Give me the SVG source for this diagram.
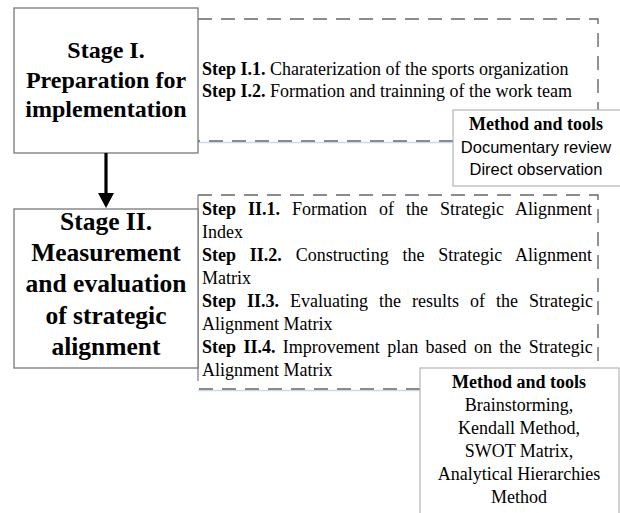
<svg xmlns="http://www.w3.org/2000/svg" width="620" height="513" viewBox="0 0 620 513">
<defs>
<style>
.stage{fill:#fff;stroke:#777;stroke-width:1.3}
.dash{fill:none;stroke:#666;stroke-width:1.4;stroke-dasharray:14 9}
.shadow{fill:none;stroke:#c9daf0;stroke-width:1.5}
.mbox{fill:#fff;stroke:#b5b5b5;stroke-width:1.2}
.st{font-family:"Liberation Serif","Times New Roman",serif;font-weight:bold;fill:#000;text-anchor:middle}
.step{font-family:"Liberation Serif","Times New Roman",serif;font-size:18px;fill:#000}
.b{font-weight:bold}
.mh{font-family:"Liberation Serif","Times New Roman",serif;font-size:18px;font-weight:bold;text-anchor:middle;fill:#000}
.mt{font-family:"Liberation Serif","Times New Roman",serif;font-size:18px;text-anchor:middle;fill:#000}
.ms{font-family:"Liberation Sans",Arial,sans-serif;font-size:16.5px;text-anchor:middle;fill:#000}
</style>
</defs>

<g id="steps1">
<line class="shadow" x1="198" y1="142.5" x2="453" y2="142.5"/>
<path class="dash" d="M198,19 H598 V110 M453,141 H198"/>
<text class="step" x="202" y="75"><tspan class="b">Step I.1.</tspan> Charaterization of the sports organization</text>
<text class="step" x="202" y="97"><tspan class="b">Step I.2.</tspan> Formation and trainning of the work team</text>
</g>

<g id="stage1">
<rect class="stage" x="14" y="8" width="184" height="145"/>
<text class="st" font-size="24" x="106" y="58">Stage I.</text>
<text class="st" font-size="24" x="106" y="87.5">Preparation for</text>
<text class="st" font-size="24" x="106" y="117">implementation</text>
</g>

<g id="methods1">
<rect class="mbox" x="453" y="110" width="170" height="76"/>
<text class="mh" x="536" y="130">Method and tools</text>
<text class="ms" x="536" y="153">Documentary review</text>
<text class="ms" x="536" y="175">Direct observation</text>
</g>

<g id="steps2">
<line class="shadow" x1="198" y1="390.5" x2="420" y2="390.5"/>
<path class="dash" d="M198,195 H598 V368 M420,389 H198"/>
<line x1="198" y1="195" x2="198" y2="381" stroke="#777" stroke-width="1.2"/>
<text class="step" x="202" y="215" word-spacing="7.5"><tspan class="b">Step II.1.</tspan> Formation of the Strategic Alignment</text>
<text class="step" x="202" y="238">Index</text>
<text class="step" x="202" y="261" word-spacing="9.3"><tspan class="b">Step II.2.</tspan> Constructing the Strategic Alignment</text>
<text class="step" x="202" y="284">Matrix</text>
<text class="step" x="202" y="307" word-spacing="6.5"><tspan class="b">Step II.3.</tspan> Evaluating the results of the Strategic</text>
<text class="step" x="202" y="330">Alignment Matrix</text>
<text class="step" x="202" y="353" word-spacing="2.9"><tspan class="b">Step II.4.</tspan> Improvement plan based on the Strategic</text>
<text class="step" x="202" y="376">Alignment Matrix</text>
</g>

<g id="stage2">
<rect class="stage" x="14" y="209" width="184" height="159"/>
<text class="st" font-size="25.5" x="106" y="230">Stage II.</text>
<text class="st" font-size="25.5" x="106" y="261">Measurement</text>
<text class="st" font-size="25.5" x="106" y="292">and evaluation</text>
<text class="st" font-size="25.5" x="106" y="324">of strategic</text>
<text class="st" font-size="25.5" x="106" y="355">alignment</text>
</g>

<g id="methods2">
<rect class="mbox" x="420" y="368" width="199" height="160"/>
<text class="mh" x="519" y="388">Method and tools</text>
<text class="mt" x="519" y="411">Brainstorming,</text>
<text class="mt" x="519" y="434">Kendall Method,</text>
<text class="mt" x="519" y="457">SWOT Matrix,</text>
<text class="mt" x="519" y="480">Analytical Hierarchies</text>
<text class="mt" x="519" y="503">Method</text>
</g>

<g id="connectors">
<line x1="106" y1="153" x2="106" y2="195" stroke="#000" stroke-width="3.2"/>
<polygon points="98,193 114,193 106,208" fill="#000"/>
</g>
</svg>
